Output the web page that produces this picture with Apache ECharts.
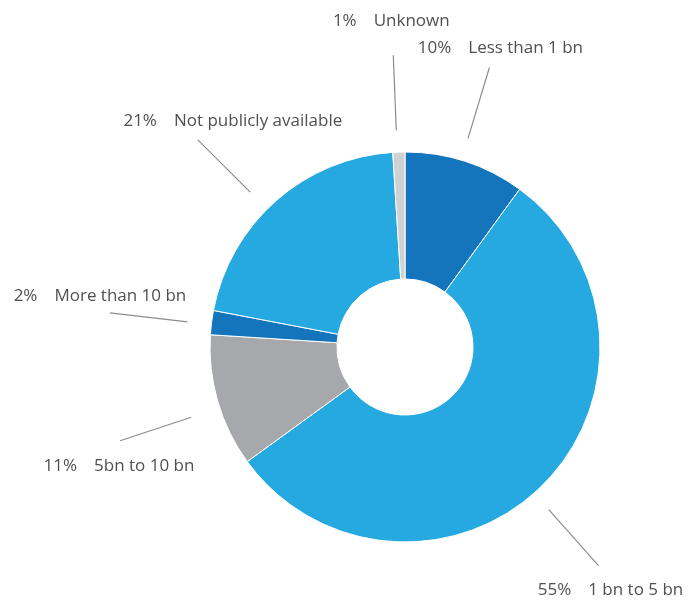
<!DOCTYPE html>
<html>
<head>
<meta charset="utf-8">
<script src="https://cdn.jsdelivr.net/npm/echarts@6/dist/echarts.min.js"></script>
<style>
html,body{margin:0;padding:0;background:#fff;}
#chart{width:691px;height:607px;}
</style>
</head>
<body>
<div id="chart"></div>
<script>
const categories = ['Less than 1 bn', '1 bn to 5 bn', '5bn to 10 bn', 'More than 10 bn', 'Not publicly available', 'Unknown'];
const values = [10, 55, 11, 2, 21, 1];
const colors = ['#1475bd', '#25a9e0', '#a6a8ab', '#1475bd', '#25a9e0', '#cfd1d2'];

// label line style tweaks: [angle shift (deg), inner radius, outer radius]
const lineAdjust = [[-1.2, 218, 292], [3.5, 217, 292], [-2, 225, 300], [-0.6, 219, 297], [-3.6, 219, 293], [-0.5, 217, 292]];
// label centre offsets relative to the outer end of each label line
const labelOffsets = [[11, -19], [12, 24], [-1, 25], [-10, -17], [35, -19], [-2, -34]];

const CX = 405, CY = 347;
const chart = echarts.init(document.getElementById('chart'), null, {renderer: 'canvas'});

const total = values.reduce((a, b) => a + b, 0);
function midAngle(i) {
  let cum = 0;
  for (let k = 0; k < i; k++) cum += values[k];
  return (cum + values[i] / 2) / total * 360;
}
function polar(angDeg, r) {
  const a = angDeg * Math.PI / 180;
  return [CX + r * Math.sin(a), CY - r * Math.cos(a)];
}

chart.setOption({
  animation: false,
  series: [{
    type: 'pie',
    center: [CX, CY],
    radius: [68, 195],
    startAngle: 90,
    clockwise: true,
    avoidLabelOverlap: false,
    itemStyle: {borderColor: '#fff', borderWidth: 1},
    label: {
      show: true,
      formatter: p => '{p|' + p.value + '%}{n|' + p.name + '}',
      rich: {
        p: {fontFamily: 'Open Sans', fontSize: 17, color: '#505050', padding: [0, 17, 0, 0]},
        n: {fontFamily: 'Open Sans', fontSize: 17, color: '#505050'}
      }
    },
    labelLine: {show: true, length: 90, length2: 0, lineStyle: {color: '#8c8c8c', width: 1.2}},
    labelLayout: function (params) {
      const i = params.dataIndex;
      const adj = lineAdjust[i];
      const ang = midAngle(i) + adj[0];
      const s = polar(ang, adj[1]);
      const e = polar(ang, adj[2]);
      const off = labelOffsets[i];
      return {
        x: e[0] + off[0],
        y: e[1] + off[1],
        align: 'center',
        verticalAlign: 'middle',
        labelLinePoints: [s, e, e]
      };
    },
    data: categories.map((c, i) => ({name: c, value: values[i], itemStyle: {color: colors[i]}}))
  }]
});
</script>
</body>
</html>
